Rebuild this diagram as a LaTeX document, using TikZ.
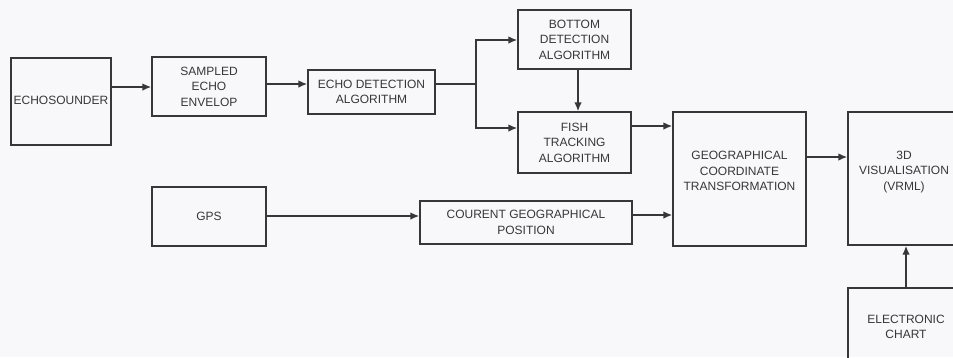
\documentclass[tikz,border=0pt]{standalone}
\usepackage{fontspec}
\setmainfont{Liberation Sans}
\usetikzlibrary{arrows.meta}
\definecolor{ink}{RGB}{55,55,55}
\definecolor{paper}{RGB}{248,248,250}
\begin{document}
\begin{tikzpicture}[x=1pt,y=-1pt,
  box/.style={draw=ink, line width=1.2pt, inner sep=0pt, align=center, text=ink,
    font=\fontsize{12}{15.5}\selectfont},
  lbl/.style={inner sep=0pt, align=center, text=ink, font=\fontsize{12}{15.5}\selectfont},
  arr/.style={draw=ink, line width=2.2pt, -{Latex[length=9pt,width=7.5pt]}},
  ln/.style={draw=ink, line width=2.2pt}]
\path[fill=paper] (0,0) rectangle (953,357);
\clip (0,0) rectangle (953,357);
% boxes
\node[box, minimum width=100pt, minimum height=87pt] (echo) at (61,101.5) {};
\node[lbl] (echot) at (61,100) {ECHOSOUNDER};
\node[box, minimum width=114pt, minimum height=59pt] (samp) at (209,86.5) {SAMPLED\\ECHO\\ENVELOP};
\node[box, minimum width=127pt, minimum height=44pt] (edet) at (371.5,92) {ECHO DETECTION\\ALGORITHM};
\node[box, minimum width=113pt, minimum height=59pt] (bott) at (574.5,39.5) {BOTTOM\\DETECTION\\ALGORITHM};
\node[box, minimum width=113pt, minimum height=61pt] (fish) at (574.5,142.5) {FISH\\TRACKING\\ALGORITHM};
\node[box, minimum width=133pt, minimum height=134pt] (geo) at (739.5,179) {};
\node[lbl] (geot) at (739.5,171) {GEOGRAPHICAL\\COORDINATE\\TRANSFORMATION};
\node[box, minimum width=114pt, minimum height=133pt] (vis) at (905,178.5) {};
\node[lbl] (vist) at (904,172) {3D\\VISUALISATION\\(VRML)};
\node[box, minimum width=114pt, minimum height=78pt] (chart) at (905,327) {};
\node[lbl] (chartt) at (906,327) {ELECTRONIC\\CHART};
\node[box, minimum width=114pt, minimum height=59pt] (gps) at (209,216.5) {GPS};
\node[box, minimum width=212pt, minimum height=43pt] (cour) at (526,222.5) {COURENT GEOGRAPHICAL\\POSITION};
% connectors
\coordinate (br) at (476,84);
\draw[arr] (echo.east |- 0,87) -- (samp.west |- 0,87);
\draw[arr] (samp.east |- br) -- (edet.west |- br);
\draw[ln] (edet.east |- br) -- (br);
\draw[arr] (br) |- (bott.west |- 0,40);
\draw[arr] (br) |- (fish.west |- 0,128);
\draw[arr] (bott.south -| 578,0) -- (fish.north -| 578,0);
\draw[arr] (fish.east |- 0,126) -- (geo.west |- 0,126);
\draw[arr] (gps.east |- 0,216) -- (cour.west |- 0,216);
\draw[arr] (cour.east |- 0,215) -- (geo.west |- 0,215);
\draw[arr] (geo.east |- 0,157) -- (vis.west |- 0,157);
\draw[arr] (chart.north -| 906,0) -- (vis.south -| 906,0);
\end{tikzpicture}
\end{document}
